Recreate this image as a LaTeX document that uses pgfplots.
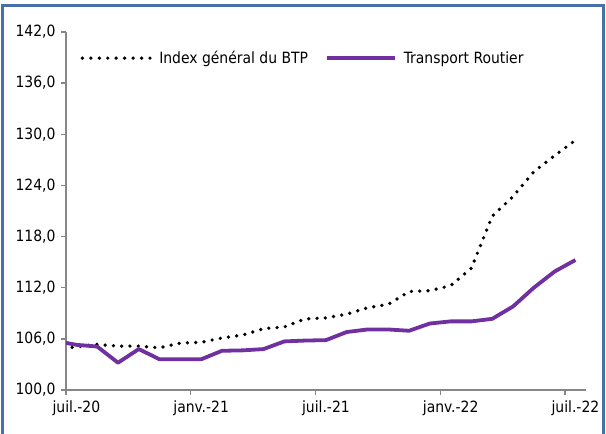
\documentclass[border=0pt]{standalone}
\usepackage{pgfplots}
\pgfplotsset{compat=1.18}
\usepackage{fontspec}
\setmainfont{DejaVu Sans Condensed}
\definecolor{frameblue}{RGB}{74,112,170}
\definecolor{axgray}{RGB}{134,134,134}
\definecolor{trpurple}{RGB}{112,48,160}
\newcommand{\chartfont}{\fontsize{15.5bp}{18bp}\selectfont}
\begin{document}
\begin{tikzpicture}
\useasboundingbox (0,0) rectangle (606bp,434bp);
\draw[frameblue, line width=2.2bp] (2.5bp,-20bp) rectangle (603.5bp,428.5bp);
\begin{axis}[
  at={(66bp,44bp)}, anchor=south west,
  scale only axis, width=519.8bp, height=358bp,
  xmin=0, xmax=25, ymin=100, ymax=142,
  axis x line*=bottom, axis y line*=left,
  axis line style={axgray, line width=1.4bp, -},
  tick style={axgray, line width=1.3bp},
  tick align=outside, major tick length=5bp,
  xtick={0,6,12,18,24},
  xticklabels={juil.-20,janv.-21,juil.-21,janv.-22,juil.-22},
  ytick={100,106,...,142},
  minor tick num=0,
  /pgf/number format/.cd, fixed, fixed zerofill, precision=1, use comma, 1000 sep={}, assume math mode=true,
  /pgfplots/.cd,
  every tick label/.append style={font=\chartfont, text=black},
  xticklabel style={xshift=10.4bp, yshift=-2bp},
  yticklabel style={xshift=-2bp},
  clip=true,
  legend columns=2,
  legend style={draw=none, fill=none, at={(0.028,0.927)}, anchor=west,
    font=\chartfont, inner sep=0pt, outer sep=0pt,
    nodes={inner xsep=0pt, inner ysep=1pt, anchor=west},
    /tikz/every odd column/.append style={column sep=7bp},
    /tikz/every even column/.append style={column sep=17bp}},
]
\addplot[black, line width=3.7bp, line cap=round, dash pattern=on 0bp off 8.3bp,
  legend image code/.code={\draw[black, line width=3.7bp, line cap=round, dash pattern=on 0bp off 8.45bp] (0bp,0bp) -- (68bp,0bp);}]
coordinates {
(-0.5,104.8) (0.5,105.05) (1.5,105.35) (2.5,105.15) (3.5,105.15) (4.5,104.95)
(5.5,105.5) (6.5,105.6) (7.5,106.1) (8.5,106.45) (9.5,107.2) (10.5,107.4)
(11.5,108.35) (12.5,108.45) (13.5,108.9) (14.5,109.65) (15.5,110.05) (16.5,111.55)
(17.5,111.65) (18.5,112.25) (19.5,114.3) (20.5,120.4) (21.5,122.7) (22.5,125.6)
(23.5,127.5) (24.5,129.3)
};
\addlegendentry{Index général du BTP}
\addplot[trpurple, line width=3.8bp, line join=round,
  legend image code/.code={\draw[trpurple, line width=3.8bp] (0bp,0bp) -- (68bp,0bp);}]
coordinates {
(-0.5,105.75) (0.5,105.3) (1.5,105.1) (2.5,103.2) (3.5,104.8) (4.5,103.6)
(5.5,103.6) (6.5,103.6) (7.5,104.6) (8.5,104.65) (9.5,104.8) (10.5,105.7)
(11.5,105.8) (12.5,105.85) (13.5,106.8) (14.5,107.1) (15.5,107.1) (16.5,106.95)
(17.5,107.8) (18.5,108.05) (19.5,108.05) (20.5,108.35) (21.5,109.8) (22.5,112.0)
(23.5,113.9) (24.5,115.25)
};
\addlegendentry{Transport Routier}
\end{axis}
\end{tikzpicture}
\end{document}
